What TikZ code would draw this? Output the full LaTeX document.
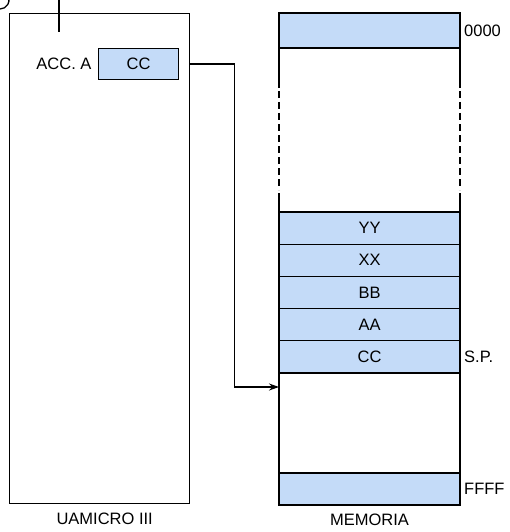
\documentclass[tikz,border=0pt]{standalone}
\usepackage{fontspec}
\setmainfont{Liberation Sans}
\usetikzlibrary{positioning, arrows.meta, calc}
\definecolor{cellblue}{RGB}{196,219,248}

\begin{document}
\begin{tikzpicture}[x=1pt, y=-1pt,
    % Node styles
    cpu/.style={rectangle, draw, line width=1.3pt, minimum width=180pt, minimum height=490pt, anchor=north west, inner sep=0pt},
    register/.style={rectangle, draw, fill=cellblue, line width=1.3pt, minimum width=80pt, minimum height=31pt, anchor=north west, inner sep=0pt},
    cell/.style={rectangle, draw, fill=cellblue, line width=1.3pt, minimum width=181pt, minimum height=32.2pt, inner sep=0pt, outer sep=0pt},
    blank/.style={rectangle, minimum width=181pt, inner sep=0pt, outer sep=0pt},
    tag/.style={anchor=west, inner sep=4pt},
    % Edge styles
    wire/.style={line width=1.3pt},
    link/.style={-{Stealth[length=10pt, width=7pt]}, line width=1.3pt},
    font=\fontsize{16.5}{18}\selectfont
]
\useasboundingbox (0,0) rectangle (509,532);
% CPU
\node[cpu] (cpu) at (9,13) {};
\node[register] (acc) at (98,48) {CC};
\node[left=3pt of acc] (acclabel) {ACC. A};
\node[below=5pt of cpu, xshift=5pt] (cpuname) {UAMICRO III};
\coordinate (lead) at (59,0);
\draw[wire] (lead) -- ++(0,32);
\draw[wire] (0,9) arc[start angle=-90, end angle=10, radius=9pt];
% Memory cells
\node[cell, anchor=north west, minimum height=35pt] (top) at (279,13) {};
\node[blank, minimum height=164pt, below=0pt of top] (gap) {};
\node[cell, below=0pt of gap] (yy) {YY};
\node[cell, below=0pt of yy] (xx) {XX};
\node[cell, below=0pt of xx] (bb) {BB};
\node[cell, below=0pt of bb] (aa) {AA};
\node[cell, below=0pt of aa] (cc) {CC};
\node[blank, draw, line width=1.3pt, minimum height=100pt, below=0pt of cc] (free) {};
\node[cell, minimum height=32pt, below=0pt of free] (bottom) {};
% Gap sides
\foreach \side in {west, east} {
    \draw[wire] (gap.north \side) -- ++(0,40);
    \draw[wire, dash pattern=on 7pt off 4pt] ($(gap.north \side)+(0,43)$) -- ++(0,99);
    \draw[wire] (gap.south \side) -- ++(0,-19);
}
% Addresses
\node[tag] (l0000) at (top.east) {0000};
\node[tag] (lsp) at (cc.east) {S.P.};
\node[tag] (lffff) at (bottom.east) {FFFF};
\node[below=5pt of bottom] (memname) {MEMORIA};
% Push of accumulator
\coordinate (entry) at ($(free.north west)+(0,14)$);
\draw[link] (cpu.east |- acc.center) -- ++(44,0) |- (entry);
\end{tikzpicture}
\end{document}
